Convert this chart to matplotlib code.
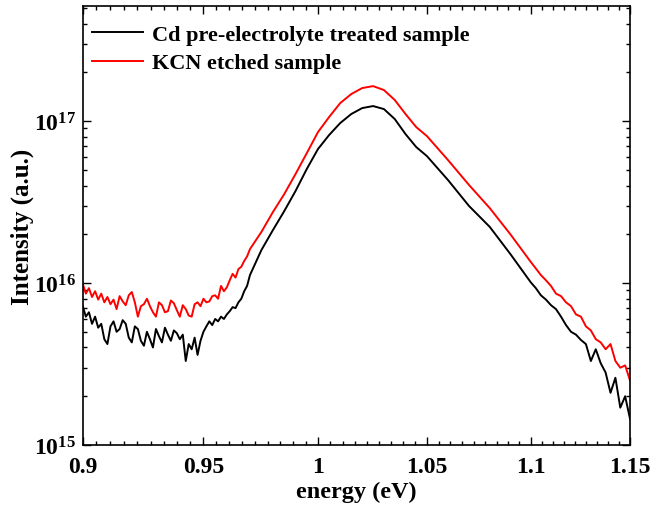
import numpy as np
import matplotlib
matplotlib.use("Agg")
import matplotlib.pyplot as plt
from matplotlib.ticker import FixedLocator, LogLocator, NullFormatter, LogFormatterMathtext

plt.rcParams['font.family'] = 'Liberation Serif'
plt.rcParams['font.weight'] = 'bold'
plt.rcParams['mathtext.fontset'] = 'custom'
plt.rcParams['mathtext.rm'] = 'Liberation Serif:bold'
plt.rcParams['mathtext.it'] = 'Liberation Serif:bold'
plt.rcParams['mathtext.bf'] = 'Liberation Serif:bold'

# energy points (eV)
energy = [0.9, 0.90125, 0.9025, 0.90375, 0.905, 0.90625, 0.9075, 0.90875, 0.91, 0.91125,
          0.9125, 0.91375, 0.915, 0.91625, 0.9175, 0.91875, 0.92, 0.92125, 0.9225, 0.92375,
          0.925, 0.92625, 0.9275, 0.92875, 0.93, 0.93125, 0.9325, 0.93375, 0.935, 0.93625,
          0.9375, 0.93875, 0.94, 0.94125, 0.9425, 0.94375, 0.945, 0.94625, 0.9475, 0.94875,
          0.95, 0.95125, 0.9525, 0.95375, 0.955, 0.95625, 0.9575, 0.95875, 0.96, 0.96125,
          0.9625, 0.96375, 0.965, 0.96625, 0.9675, 0.96875, 0.97,
          0.975, 0.98, 0.985, 0.99, 0.995, 1.0, 1.005, 1.01, 1.015, 1.02, 1.025,
          1.03, 1.035, 1.04, 1.045, 1.05, 1.06, 1.07, 1.08, 1.09,
          1.1, 1.1025, 1.105, 1.1075, 1.11, 1.1125, 1.115, 1.1175, 1.12, 1.1225,
          1.125, 1.1275, 1.13, 1.1325, 1.135, 1.1375, 1.14, 1.1425, 1.145, 1.1475, 1.15]

# Cd pre-electrolyte treated sample (units of 1e15)
cd_treated = [7.2, 6.2, 6.6, 5.6, 6.2, 5.3, 5.6, 4.5, 4.2, 5.4,
              5.8, 5.0, 5.2, 5.9, 5.6, 4.6, 4.3, 5.4, 5.2, 4.4,
              4.1, 5.0, 4.5, 4.0, 5.2, 4.7, 4.3, 5.3, 4.8, 4.4,
              5.1, 4.9, 4.5, 4.8, 3.3, 4.2, 3.9, 4.6, 3.6, 4.4,
              5.0, 5.4, 5.8, 5.5, 6.0, 5.8, 6.2, 6.0, 6.4, 6.7,
              7.1, 7.0, 7.6, 8.0, 8.9, 9.6, 11.2,
              16.0, 21.2, 27.8, 37.0, 50.6, 67.2, 82.0, 97.2, 110.5, 120.3, 123.8,
              118.6, 102.9, 83.1, 69.1, 60.8, 43.2, 29.9, 22.2, 15.1,
              10.1, 9.3, 8.4, 7.9, 7.3, 6.9, 6.2, 5.5, 5.0, 4.8,
              4.45, 4.2, 3.3, 3.9, 3.2, 2.8, 2.1, 2.6, 1.7, 2.0, 1.45]

# KCN etched sample (units of 1e15)
kcn_etched = [9.9, 8.6, 9.3, 8.2, 8.9, 7.9, 8.6, 7.6, 8.2, 7.4,
              7.9, 6.9, 8.3, 7.7, 7.3, 8.4, 8.8, 7.6, 6.2, 7.2,
              7.4, 8.0, 7.2, 6.6, 6.2, 7.6, 7.3, 6.6, 6.7, 7.8,
              7.5, 6.8, 6.2, 7.3, 6.9, 6.3, 6.2, 7.4, 7.6, 7.2,
              8.0, 7.6, 7.7, 8.3, 8.4, 8.0, 9.6, 8.9, 9.4, 10.4,
              11.4, 10.8, 12.2, 12.6, 13.7, 14.6, 16.2,
              20.7, 27.4, 35.4, 47.1, 63.4, 85.5, 105.9, 129.1, 146.8, 159.9, 164.4,
              155.4, 134.9, 110.5, 91.8, 80.8, 57.4, 40.3, 29.0, 20.0,
              13.5, 12.3, 11.2, 10.4, 9.6, 8.6, 8.3, 7.6, 7.2, 6.4,
              6.2, 5.4, 5.1, 4.5, 4.3, 3.9, 4.2, 3.3, 3.0, 3.1, 2.5]

xticks = [0.9, 0.95, 1.0, 1.05, 1.1, 1.15]
xticklabels = ['0.9', '0.95', '1', '1.05', '1.1', '1.15']

fig = plt.figure(figsize=(6.53, 5.06), dpi=100)
ax = fig.add_axes([0.1267, 0.1186, 0.8381, 0.8666])

ax.plot(energy, np.array(cd_treated) * 1e15, color='black', lw=1.4,
        label='Cd pre-electrolyte treated sample')
ax.plot(energy, np.array(kcn_etched) * 1e15, color='red', lw=1.4,
        label='KCN etched sample')

ax.set_xscale('log')
ax.set_yscale('log')
ax.set_xlim(0.9, 1.15)
ax.set_ylim(1e15, 5.1e17)

ax.xaxis.set_major_locator(FixedLocator(xticks))
ax.set_xticklabels(xticklabels)
minor = []
for a in xticks[:-1]:
    for k in range(1, 9):
        minor.append(a + k * 0.05 / 9)
ax.xaxis.set_minor_locator(FixedLocator(minor))
ax.xaxis.set_minor_formatter(NullFormatter())

ax.yaxis.set_major_locator(LogLocator(base=10, numticks=10))
ax.yaxis.set_minor_locator(LogLocator(base=10, subs=np.arange(2, 10), numticks=10))
ax.yaxis.set_major_formatter(LogFormatterMathtext())
ax.yaxis.set_minor_formatter(NullFormatter())

ax.tick_params(which='both', direction='in', top=True, right=True, labelsize=17)
ax.tick_params(axis='x', which='major', pad=8)
ax.tick_params(axis='y', which='major', pad=5)
ax.tick_params(which='major', length=6, width=1)
ax.tick_params(which='minor', length=3, width=1)
for s in ax.spines.values():
    s.set_linewidth(1.2)

ax.set_xlabel('energy (eV)', fontsize=17.5, fontweight='bold', labelpad=3)
ax.set_ylabel('Intensity (a.u.)', fontsize=18, fontweight='bold', labelpad=0)

ax.legend(loc='upper left', bbox_to_anchor=(-0.008, 0.99), frameon=False, fontsize=16,
          handlelength=2.3, borderaxespad=0.3, borderpad=0.3, labelspacing=0.36,
          handletextpad=0.4)

fig.savefig('out.png', dpi=100)
